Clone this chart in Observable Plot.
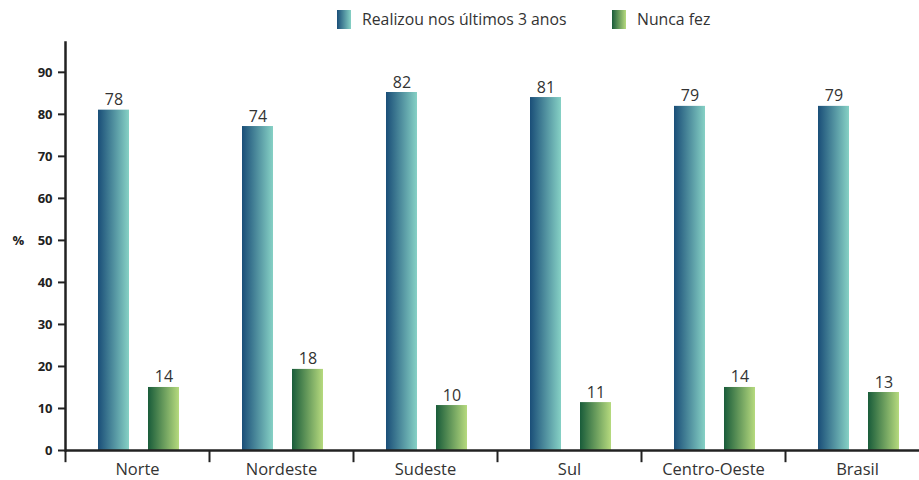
<!DOCTYPE html>
<html>
<head>
<meta charset="utf-8">
<script src="https://cdn.jsdelivr.net/npm/d3@7"></script>
<script src="https://cdn.jsdelivr.net/npm/@observablehq/plot@0.6"></script>
<style>
  body { margin: 0; background: #fff; font-family: "Open Sans", "Noto Sans", sans-serif; color: #333; }
  #legend { height: 38px; position: relative; font-size: 15.8px; }
  .item { position: absolute; top: 8px; display: flex; align-items: center; gap: 11px; }
  .sw { width: 14px; height: 19px; display: inline-block; }
  .sw.a { background: linear-gradient(to right, #1a4e78, #86d1c5); }
  .sw.b { background: linear-gradient(to right, #195c3a, #b6da7e); }
</style>
</head>
<body>
<div id="legend"></div>
<div id="chart"></div>
<script>
const regions = ["Norte", "Nordeste", "Sudeste", "Sul", "Centro-Oeste", "Brasil"];
const seriesNames = ["Realizou nos últimos 3 anos", "Nunca fez"];
// printed value labels
const realizouLabels = [78, 74, 82, 81, 79, 79];
const nuncaLabels = [14, 18, 10, 11, 14, 13];
// bar heights as drawn in the picture (read against the axis)
const realizouBars = [81, 77.1, 85.2, 84, 81.9, 81.9];
const nuncaBars = [15, 19.3, 10.7, 11.4, 15, 13.8];
const yTicks = [0, 10, 20, 30, 40, 50, 60, 70, 80, 90];

const realizou = regions.map((r, i) => ({region: r, bar: realizouBars[i], label: realizouLabels[i]}));
const nunca = regions.map((r, i) => ({region: r, bar: nuncaBars[i], label: nuncaLabels[i]}));

// legend
const legend = document.getElementById("legend");
[["a", 337], ["b", 612]].forEach(([cls, left], i) => {
  const it = document.createElement("div");
  it.className = "item";
  it.style.left = left + "px";
  it.innerHTML = `<span class="sw ${cls}"></span><span>${seriesNames[i]}</span>`;
  legend.appendChild(it);
});

const font = '"Open Sans", "Noto Sans", sans-serif';
const svg = Plot.plot({
  width: 919,
  height: 442,
  marginTop: 4,
  marginBottom: 30,
  marginLeft: 65,
  marginRight: 0,
  style: {fontFamily: font, color: "#222", background: "transparent", overflow: "visible"},
  x: {domain: regions, range: [65, 929], padding: 0, axis: null},
  y: {domain: [0, 97.1], axis: null},
  marks: [
    Plot.rectY(realizou, {x: "region", y: "bar", insetLeft: 33, insetRight: 80, fill: "url(#gradA)"}),
    Plot.rectY(nunca, {x: "region", y: "bar", insetLeft: 83, insetRight: 30, fill: "url(#gradB)"}),
    Plot.text(realizou, {x: "region", y: "bar", text: d => String(d.label), dx: -23.5, dy: -5, lineAnchor: "bottom", fontSize: 16, fill: "#333"}),
    Plot.text(nunca, {x: "region", y: "bar", text: d => String(d.label), dx: 26.5, dy: -5, lineAnchor: "bottom", fontSize: 16, fill: "#333"}),
    Plot.axisY({ticks: yTicks, tickSize: 7, tickPadding: 6, fontSize: 13, fontWeight: "bold", label: null, stroke: "#222", strokeWidth: 2, fill: "#222"}),
    Plot.axisX({tickSize: 0, tickPadding: 13, fontSize: 16.5, label: null, fill: "#333"}),
    Plot.ruleX(regions, {x: d => d, dx: -72, y1: 0, y2: -2.9, stroke: "#222", strokeWidth: 2}),
    Plot.ruleY([0], {stroke: "#222", strokeWidth: 2.5}),
    Plot.frame({anchor: "left", stroke: "#222", strokeWidth: 2.5}),
    Plot.text(["%"], {y: 50, frameAnchor: "left", dx: -53, textAnchor: "start", fontSize: 13, fontWeight: "bold", fill: "#222"})
  ]
});

const defs = d3.select(svg).insert("defs", ":first-child");
const gA = defs.append("linearGradient").attr("id", "gradA").attr("x1", 0).attr("x2", 1).attr("y1", 0).attr("y2", 0);
gA.append("stop").attr("offset", 0).attr("stop-color", "#1a4e78");
gA.append("stop").attr("offset", 1).attr("stop-color", "#86d1c5");
const gB = defs.append("linearGradient").attr("id", "gradB").attr("x1", 0).attr("x2", 1).attr("y1", 0).attr("y2", 0);
gB.append("stop").attr("offset", 0).attr("stop-color", "#195c3a");
gB.append("stop").attr("offset", 1).attr("stop-color", "#b6da7e");

document.getElementById("chart").appendChild(svg);
</script>
</body>
</html>
